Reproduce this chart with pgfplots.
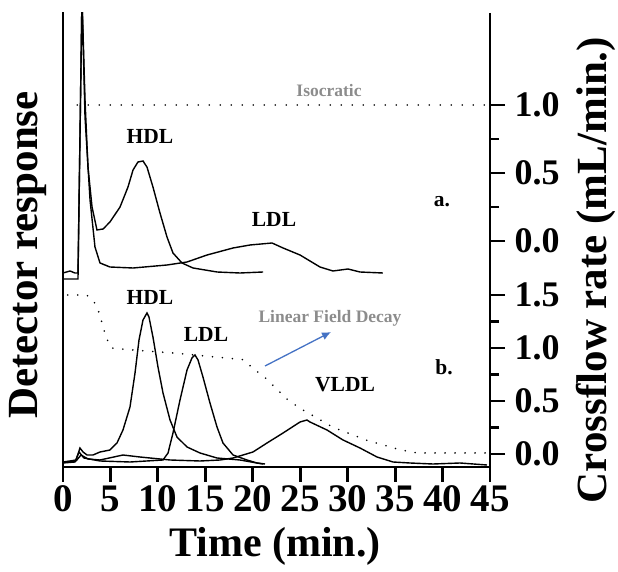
\documentclass[border=0pt]{standalone}
\usepackage{pgfplots}
\pgfplotsset{compat=1.18}
\usetikzlibrary{arrows.meta}
\usepackage{fontspec}
\setmainfont{Liberation Serif}
\definecolor{lblgray}{RGB}{140,140,140}
\definecolor{arrblue}{RGB}{68,114,196}
\pgfplotsset{axis line style={line width=2.8pt}}
\begin{document}
\begin{tikzpicture}[x=1pt,y=1pt]
\pgfplotsset{
  common/.style={
    scale only axis, width=427pt, height=454pt,
    at={(0,0)}, anchor=south west,
    xmin=0, xmax=45,
    axis line style={line width=2.8pt},
    tick style={line width=2.8pt, black},
    major tick length=15pt, minor tick length=9pt,
  },
  curve/.style={black, no marks, line width=1.4pt},
}
% main axis: detector response (arbitrary units)
\begin{axis}[common,
  ymin=0, ymax=454,
  axis x line*=bottom, axis y line*=left,
  ytick=\empty,
  xtick={0,5,...,45}, xtick align=outside,
  /pgf/number format/assume math mode=true,
  xticklabel style={font=\bfseries\fontsize{39}{40}\selectfont},
]
% (a) HDL
\addplot[curve] coordinates {(0,194) (0.74,196) (1.26,194) (1.58,194) (2.0,470) (2.32,367) (2.63,300) (3.06,260) (3.58,237) (4.22,238) (4.95,245) (6.01,260) (6.85,280) (7.38,297) (7.90,305) (8.43,306) (8.85,300) (9.48,280) (10.22,254) (10.96,230) (11.59,214) (12.54,204) (13.70,199) (16.23,195) (18.65,194) (21.08,195)};
% (a) LDL
\addplot[curve] coordinates {(0,188) (1.58,188) (2.0,470) (2.32,350) (2.85,267) (3.37,220) (3.90,204) (4.95,200) (7.38,199) (10.96,202) (13.07,205) (15.18,212) (17.92,219) (19.71,222) (22.03,224) (23.19,219) (24.98,212) (26.03,206) (27.08,200) (28.45,196) (30.03,198) (31.30,195) (33.72,194)};
% (b) HDL
\addplot[curve] coordinates {(0,5) (0.74,6) (1.37,7) (1.79,19) (2.11,15) (2.53,12) (3.16,12) (3.90,15) (4.95,17) (5.69,24) (6.32,37) (7.06,60) (7.59,94) (8.01,127) (8.43,147) (8.85,154) (9.06,150) (9.48,130) (10.01,100) (10.54,74) (11.28,47) (12.01,30) (13.07,20) (14.44,14) (16.23,9) (18.65,7) (20.44,4) (21.29,3)};
% (b) LDL
\addplot[curve] coordinates {(0,4) (1.26,5) (1.69,15) (2.21,9) (3.9,6) (7.06,5) (10.54,7) (11.07,14) (11.59,34) (12.33,67) (13.07,97) (13.59,109) (13.91,112) (14.23,107) (14.75,90) (15.49,64) (16.23,40) (16.86,24) (17.92,12) (19.39,7) (20.44,4) (21.08,3)};
% (b) VLDL
\addplot[curve] coordinates {(0,5) (1.37,6) (1.9,12) (2.63,8) (3.9,7) (6.32,12) (8.11,10) (11.28,7) (14.44,6) (16.55,7) (17.92,9) (20.02,15) (21.50,24) (23.19,34) (24.98,45) (25.71,47) (26.03,45) (27.82,37) (29.51,27) (31.30,19) (33.09,10) (34.78,5) (36.57,4) (38.99,3) (41.84,4) (44.68,2)};
\end{axis}
% crossflow, panel b
\begin{axis}[common,
  ymin=-0.1226, ymax=4.160,
  axis x line=none, axis y line*=right,
  ytick={0,0.5,1,1.5}, minor ytick={0.25,0.75,1.25},
  ytick align=outside, yticklabel pos=right,
  /pgf/number format/assume math mode=true,
  yticklabel style={font=\bfseries\fontsize{36}{36}\selectfont, xshift=6pt,
    /pgf/number format/.cd, fixed, fixed zerofill, precision=1},
]
\addplot[black, line width=1.8pt, line cap=round, dash pattern=on 0pt off 10pt] coordinates {(0.5,1.5) (2.5,1.5) (3.4,1.42) (3.9,1.31) (4.2,1.20) (4.6,1.09) (5.1,1.0) (6.2,0.99) (12,0.95) (19.0,0.89) (20.0,0.81) (21.3,0.72) (23.7,0.51) (25.0,0.43) (28.5,0.25) (32.0,0.13) (35.5,0.04) (37.3,0.01) (45,0.01)};
\end{axis}
% crossflow, panel a
\begin{axis}[common,
  ymin=-1.662, ymax=1.676,
  axis x line=none, axis y line*=right,
  ytick={0,0.5,1}, minor ytick={0.25,0.75},
  ytick align=outside, yticklabel pos=right,
  /pgf/number format/assume math mode=true,
  yticklabel style={font=\bfseries\fontsize{36}{36}\selectfont, xshift=6pt,
    /pgf/number format/.cd, fixed, fixed zerofill, precision=1},
]
\addplot[black, line width=1.8pt, line cap=round, dash pattern=on 0pt off 11pt] coordinates {(1.5,1.0) (45,1.0)};
\end{axis}
% heavy axis frame lines (left, bottom, right)
\draw[line width=2.8pt, line cap=rect] (0,454) -- (0,0) -- (427,0);
\draw[line width=2.8pt] (427,454) -- (427,0);
% labels
\node[rotate=90, font=\bfseries\fontsize{43}{43}\selectfont] at (-35,212) {Detector response};
\node[rotate=90, font=\bfseries\fontsize{43}{43}\selectfont] at (533,197) {Crossflow rate (mL/min.)};
\node[font=\bfseries\fontsize{42}{42}\selectfont] at (212,-79) {Time (min.)};
\node[font=\bfseries\fontsize{17.5}{18}\selectfont, text=lblgray] at (266,376) {Isocratic};
\node[font=\bfseries\fontsize{21.5}{22}\selectfont] at (87,331) {HDL};
\node[font=\bfseries\fontsize{21.5}{22}\selectfont] at (211,248) {LDL};
\node[font=\bfseries\fontsize{21.5}{22}\selectfont] at (379,265) {a.};
\node[font=\bfseries\fontsize{21.5}{22}\selectfont] at (87,170) {HDL};
\node[font=\bfseries\fontsize{21.5}{22}\selectfont] at (143,133) {LDL};
\node[font=\bfseries\fontsize{17.5}{18}\selectfont, text=lblgray] at (267,149) {Linear Field Decay};
\node[font=\bfseries\fontsize{21.5}{22}\selectfont] at (282,82) {VLDL};
\node[font=\bfseries\fontsize{21.5}{22}\selectfont] at (381,100) {b.};
\draw[arrblue, line width=1.3pt, -{Latex[length=9pt,width=8pt]}] (202,101) -- (268,135);
\pgfresetboundingbox
\path[use as bounding box] (-63,-105) rectangle (555,467);
\end{tikzpicture}
\end{document}
